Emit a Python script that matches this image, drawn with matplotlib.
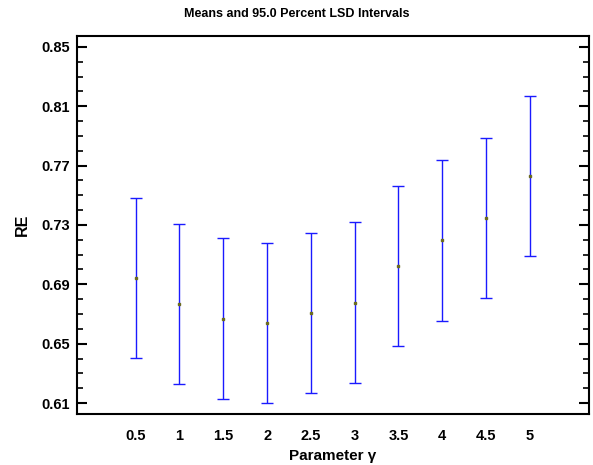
import numpy as np
import matplotlib
matplotlib.use('Agg')
import matplotlib.pyplot as plt
from matplotlib.ticker import FixedLocator, FormatStrFormatter

# data
gamma_labels = ['0.5', '1', '1.5', '2', '2.5', '3', '3.5', '4', '4.5', '5']
means = [0.6943, 0.6768, 0.6669, 0.6637, 0.6709, 0.6776, 0.7024, 0.7197, 0.7350, 0.7629]
lower = [0.6401, 0.6228, 0.6127, 0.6098, 0.6165, 0.6237, 0.6484, 0.6655, 0.6806, 0.7091]
upper = [0.7484, 0.7309, 0.7211, 0.7181, 0.7248, 0.7318, 0.7565, 0.7737, 0.7887, 0.8172]
major_y = [0.61, 0.65, 0.69, 0.73, 0.77, 0.81, 0.85]

plt.rcParams['font.family'] = ['Liberation Sans', 'DejaVu Sans']
plt.rcParams['font.weight'] = 'bold'

fig = plt.figure(figsize=(5.93, 4.65), dpi=100)
ax = fig.add_axes([0.1298, 0.1097, 0.8635, 0.8129])

x = np.arange(len(gamma_labels))
m = np.array(means)
err = [m - np.array(lower), np.array(upper) - m]

ax.errorbar(x, m, yerr=err, fmt='none', ecolor='#1a1aff', elinewidth=1.0,
            capsize=4.3, capthick=1.0)
ax.plot(x, m, 's', color='#6b6b20', markersize=2, zorder=3)

ax.set_xlim(-1.34, 10.35)
ax.set_ylim(0.6026, 0.8574)
ax.set_xticks(x)
ax.set_xticklabels(gamma_labels)
ax.yaxis.set_major_locator(FixedLocator(major_y))
ax.yaxis.set_minor_locator(FixedLocator(np.round(np.arange(0.61, 0.851, 0.01), 2)))
ax.yaxis.set_major_formatter(FormatStrFormatter('%.2f'))

ax.tick_params(axis='x', length=0, pad=11, labelsize=10.5)
ax.tick_params(axis='y', which='major', direction='in', length=7, width=1.5,
               left=True, right=True, pad=5, labelsize=10.5)
ax.tick_params(axis='y', which='minor', direction='in', length=4, width=1.2,
               left=True, right=True)

for s in ax.spines.values():
    s.set_linewidth(1.5)

ax.set_ylabel('RE', fontsize=11.5, fontweight='bold', labelpad=8)
ax.set_xlabel('Parameter γ', fontsize=11, fontweight='bold', labelpad=4)
fig.suptitle('Means and 95.0 Percent LSD Intervals', x=0.5, y=0.983,
             fontsize=9, fontweight='bold')

fig.savefig('out.png', dpi=100)
